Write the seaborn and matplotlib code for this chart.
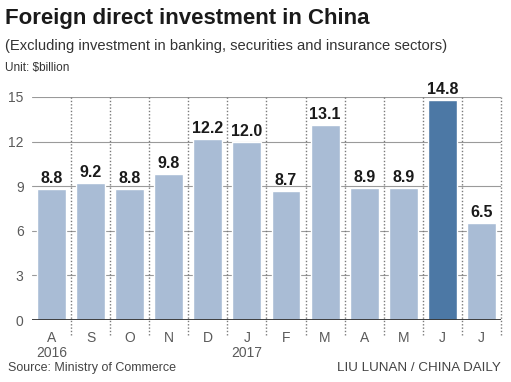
import pandas as pd
import matplotlib
matplotlib.use("Agg")
import matplotlib.pyplot as plt
import seaborn as sns

# values
months = ['Aug 2016', 'Sep', 'Oct', 'Nov', 'Dec', 'Jan 2017', 'Feb', 'Mar', 'Apr', 'May', 'Jun', 'Jul']
tick_labels = ['A', 'S', 'O', 'N', 'D', 'J', 'F', 'M', 'A', 'M', 'J', 'J']
values = [8.8, 9.2, 8.8, 9.8, 12.2, 12.0, 8.7, 13.1, 8.9, 8.9, 14.8, 6.5]
highlight = 'Jun'
yticks = [0, 3, 6, 9, 12, 15]
years = {'2016': 0, '2017': 5}

light = '#a9bcd5'
dark = '#4c78a5'

sns.set_style('white')
plt.rcParams['font.family'] = ['Liberation Sans', 'DejaVu Sans']

df = pd.DataFrame({'month': months, 'value': values})
palette = {m: (dark if m == highlight else light) for m in months}

fig = plt.figure(figsize=(5.11, 3.82), dpi=100)
ax = fig.add_axes([0.0626, 0.1623, 0.9178, 0.5838])

# grid first so bars sit on top
for y in yticks[1:]:
    ax.axhline(y, color='#9a9a9a', lw=0.8, zorder=0)

sns.barplot(data=df, x='month', y='value', hue='month', palette=palette,
            legend=False, width=0.74, saturation=1, ax=ax, zorder=2)

for k in range(len(months)):
    ax.plot([k + 0.5, k + 0.5], [-1.0, 15], color='#7a7a7a', lw=1,
            linestyle=(0, (1, 1.4)), clip_on=False, zorder=1)

ax.axhline(0, color='#333333', lw=1.3, zorder=3)

for i, v in enumerate(values):
    ax.text(i, v + 0.2, f'{v:.1f}', ha='center', va='bottom', fontsize=11.5,
            fontweight='bold', color='#1a1a1a', clip_on=False)

ax.set_xlim(-0.5, len(months) - 0.5)
ax.set_ylim(0, 15)
ax.set_yticks(yticks)
ax.set_xticks(range(len(months)))
ax.set_xticklabels(tick_labels)
ax.tick_params(axis='both', length=0, labelsize=10, labelcolor='#5a5a5a')
ax.tick_params(axis='y', pad=6)
ax.tick_params(axis='x', pad=8)
ax.set_xlabel('')
ax.set_ylabel('')
sns.despine(ax=ax, left=True, bottom=True, top=True, right=True)

for yr, pos in years.items():
    ax.text(pos, -2.25, yr, ha='center', va='center', fontsize=10, color='#5a5a5a')

fig.text(0.01, 0.952, 'Foreign direct investment in China', fontsize=16,
         fontweight='bold', color='#1a1a1a', va='center')
fig.text(0.01, 0.88, '(Excluding investment in banking, securities and insurance sectors)',
         fontsize=10.6, color='#333333', va='center')
fig.text(0.01, 0.822, 'Unit: $billion', fontsize=8.5, color='#333333', va='center')
fig.text(0.016, 0.037, 'Source: Ministry of Commerce', fontsize=9, color='#444444', va='center')
fig.text(0.98, 0.037, 'LIU LUNAN / CHINA DAILY', fontsize=9.6, color='#444444',
         va='center', ha='right')

fig.savefig('out.png', dpi=100)
